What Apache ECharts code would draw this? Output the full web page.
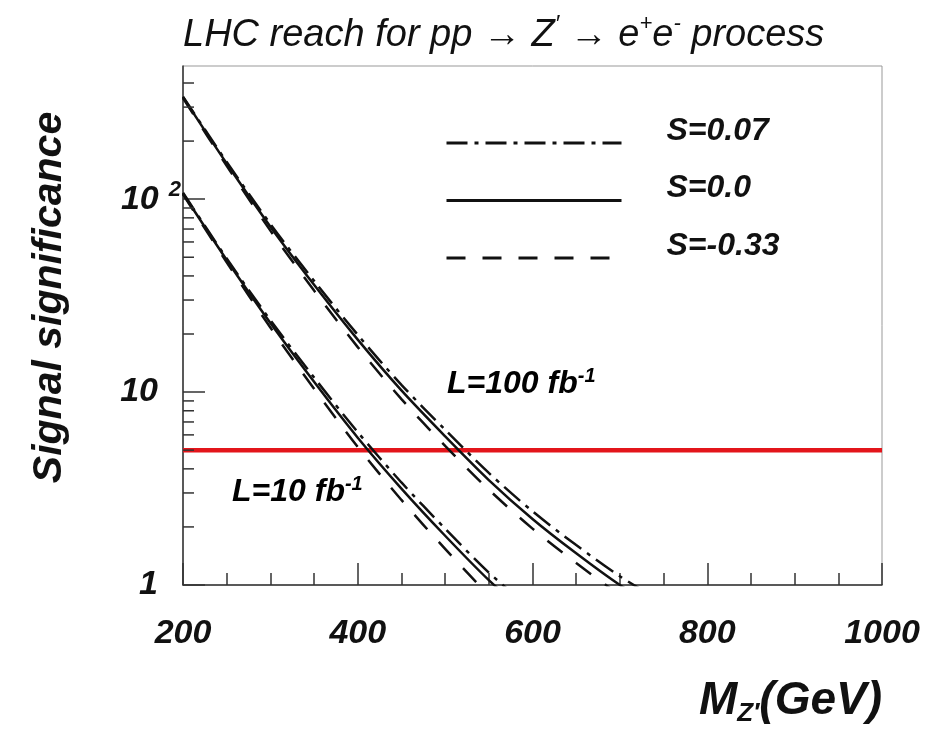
<!DOCTYPE html>
<html>
<head>
<meta charset="utf-8">
<script src="https://cdn.jsdelivr.net/npm/echarts@6/dist/echarts.min.js"></script>
<style>html,body{margin:0;background:#fff}#chart{width:940px;height:731px}</style>
</head>
<body>
<div id="chart"></div>
<script>
var massPoints = [200, 250, 300, 350, 400, 450, 500, 550, 600, 650, 700, 750];
// L = 100 fb-1
var hiS007 = [340, 156, 74.4, 37.7, 19.8, 10.9, 6.38, 3.81, 2.41, 1.61, 1.11, 0.81];
var hiS000 = [338, 153, 72, 36, 18.7, 10.2, 5.9, 3.5, 2.2, 1.46, 1.0, 0.73];
var hiS033 = [334, 149, 68.7, 33.6, 17.1, 9.2, 5.26, 3.12, 1.96, 1.30, 0.89, 0.65];
// L = 10 fb-1
var loS007 = [108, 49.3, 23.6, 11.9, 6.2, 3.4, 1.96, 1.16, 0.74];
var loS000 = [107, 48.4, 22.8, 11.3, 5.8, 3.16, 1.80, 1.06, 0.67];
var loS033 = [106, 47.1, 21.6, 10.4, 5.2, 2.76, 1.54, 0.89, 0.56];

var legendNames = ['S=0.07', 'S=0.0', 'S=-0.33'];
var discovery = 5;
var xRange = [200, 1000];
var yTickValues = [1, 10, 100];
var yTickLabels = ['{n|1}', '{n|10}', '{m|10}{s|2}'];
var yMinorTicks = [2, 3, 4, 5, 6, 7, 8, 9, 20, 30, 40, 50, 60, 70, 80, 90, 200, 300, 400];

var FONT = "'Liberation Sans', Arial, sans-serif";
var INK = '#111';
var dashDot = [21, 7, 4, 7];
var dashed = [19, 17];

function curve(name, vals, type) {
    return {
        name: name,
        type: 'line',
        data: vals.map(function (v, i) { return [massPoints[i], v]; }),
        symbol: 'none',
        smooth: 0.3,
        silent: true,
        z: 3,
        itemStyle: { color: INK },
        lineStyle: { color: INK, width: 2.5, type: type }
    };
}

var dom = document.getElementById('chart');
var myChart = echarts.init(dom);

var bi = { fontFamily: FONT, fontWeight: 'bold', fontStyle: 'italic', color: INK };
var it = { fontFamily: FONT, fontWeight: 'normal', fontStyle: 'italic', color: INK };

option = {
    animation: false,
    backgroundColor: '#fff',
    title: {
        text: '{t|LHC reach for pp → Z}{p|′}{t| → e}{s|+}{t|e}{s|-}{t| process}',
        left: 183,
        top: 13,
        padding: 0,
        textStyle: {
            fontWeight: 'normal',
            rich: {
                t: Object.assign({ fontSize: 38, lineHeight: 44 }, it),
                p: Object.assign({ fontSize: 24, verticalAlign: 'top', lineHeight: 24 }, it),
                s: Object.assign({ fontSize: 22, verticalAlign: 'top', lineHeight: 22 }, it)
            }
        }
    },
    legend: {
        data: legendNames,
        orient: 'vertical',
        left: 445,
        top: 115,
        padding: 0,
        itemWidth: 175,
        itemHeight: 20,
        itemGap: 21.5,
        selectedMode: false,
        lineStyle: { width: 3 },
        itemStyle: { opacity: 0 },
        formatter: '{a|{name}}{h| }',
        textStyle: {
            rich: {
                a: Object.assign({ fontSize: 32, lineHeight: 30, verticalAlign: 'top', padding: [0, 0, 0, 40] }, bi),
                h: { fontSize: 1, lineHeight: 56 }
            }
        }
    },
    grid: {
        left: 183, right: 58, top: 66, bottom: 146,
        show: true, borderColor: '#999', borderWidth: 1,
        outerBoundsMode: 'none'
    },
    xAxis: {
        type: 'value',
        min: xRange[0],
        max: xRange[1],
        interval: 200,
        splitLine: { show: false },
        axisLine: { show: true, lineStyle: { color: '#333', width: 1.5 } },
        axisTick: { show: true, inside: true, length: 22, lineStyle: { color: '#333', width: 1.5 } },
        minorTick: { show: true, splitNumber: 4, length: 12, lineStyle: { color: '#333', width: 1.5 } },
        axisLabel: Object.assign({
            fontSize: 34, margin: 32,
            formatter: function (v) { return String(v); }
        }, bi),
        name: '{m|M}{sub|Z′}{m|(GeV)}',
        nameLocation: 'end',
        nameGap: 0,
        nameTextStyle: {
            align: 'right',
            verticalAlign: 'top',
            padding: [90, 0, 0, 0],
            rich: {
                m: Object.assign({ fontSize: 46, lineHeight: 52 }, bi),
                sub: Object.assign({ fontSize: 26, lineHeight: 18, verticalAlign: 'bottom' }, bi)
            }
        }
    },
    yAxis: {
        type: 'log',
        logBase: 10,
        min: 1,
        max: 490,
        splitLine: { show: false },
        axisLine: { show: true, lineStyle: { color: '#333', width: 1.5 } },
        axisTick: { show: true, inside: true, length: 22, customValues: yTickValues, lineStyle: { color: '#333', width: 1.5 } },
        axisLabel: {
            customValues: yTickValues,
            margin: 2,
            formatter: function (v) {
                var i = yTickValues.indexOf(Math.round(v));
                return i < 0 ? '' : yTickLabels[i];
            },
            rich: {
                n: Object.assign({ fontSize: 34, lineHeight: 40, padding: [0, 23, 0, 0] }, bi),
                m: Object.assign({ fontSize: 34, lineHeight: 40, padding: [0, 10, 0, 0] }, bi),
                s: Object.assign({ fontSize: 22, lineHeight: 22, verticalAlign: 'top' }, bi)
            }
        },
        name: 'Signal significance',
        nameLocation: 'middle',
        nameRotate: 90,
        nameGap: 113,
        nameTextStyle: Object.assign({ fontSize: 41, padding: [0, 0, 0, 56] }, bi)
    },
    graphic: [
        {
            type: 'text', left: 447, top: 366, silent: true,
            style: {
                text: '{a|L=100 fb}{b|-1}',
                rich: {
                    a: Object.assign({ fontSize: 32, lineHeight: 36 }, bi),
                    b: Object.assign({ fontSize: 20, lineHeight: 20, verticalAlign: 'top' }, bi)
                }
            }
        },
        {
            type: 'text', left: 232, top: 474, silent: true,
            style: {
                text: '{a|L=10 fb}{b|-1}',
                rich: {
                    a: Object.assign({ fontSize: 32, lineHeight: 36 }, bi),
                    b: Object.assign({ fontSize: 20, lineHeight: 20, verticalAlign: 'top' }, bi)
                }
            }
        }
    ],
    series: [
        {
            name: '5 sigma',
            type: 'line',
            data: xRange.map(function (x) { return [x, discovery]; }),
            symbol: 'none',
            silent: true,
            z: 1,
            lineStyle: { color: '#e3151b', width: 4.5 }
        },
        curve('S=0.07', hiS007, dashDot),
        curve('S=0.0', hiS000, 'solid'),
        curve('S=-0.33', hiS033, dashed),
        curve('S=0.07', loS007, dashDot),
        curve('S=0.0', loS000, 'solid'),
        curve('S=-0.33', loS033, dashed),
        {
            // minor ticks of the log axis, at 2..9 of each decade
            type: 'custom',
            silent: true,
            z: 4,
            data: yMinorTicks.map(function (v) { return [xRange[0], v]; }),
            renderItem: function (params, api) {
                var p = api.coord([api.value(0), api.value(1)]);
                return {
                    type: 'line',
                    shape: { x1: p[0], y1: p[1], x2: p[0] + 11, y2: p[1] },
                    style: { stroke: '#333', lineWidth: 1.5 }
                };
            }
        }
    ]
};
myChart.setOption(option, true);
</script>
</body>
</html>
